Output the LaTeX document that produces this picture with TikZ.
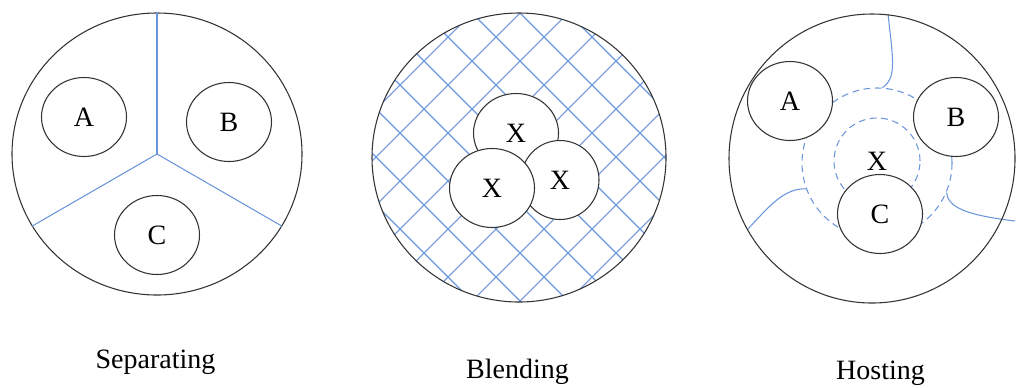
\documentclass[tikz,border=0pt]{standalone}
\usepackage{fontspec}
\setmainfont{Liberation Serif}
\usetikzlibrary{shapes.geometric}
\definecolor{ink}{HTML}{333333}
\definecolor{hatch}{HTML}{6B96DC}
\newcommand\lettersize{\fontsize{21}{25}\selectfont}

\begin{document}
\begin{tikzpicture}[x=0.75pt,y=-0.75pt,
  ring/.style={draw=ink,line width=0.8pt,ellipse,inner sep=0pt},
  blob/.style={draw=ink,fill=white,line width=0.8pt,ellipse,inner sep=0pt,
    minimum width=63.75pt,minimum height=59.25pt,font=\lettersize},
  wall/.style={hatch,line width=0.8pt},
  zone/.style={draw=hatch,line width=0.8pt,dash pattern=on 5pt off 3.5pt,
    circle,inner sep=0pt,font=\lettersize},
  caption/.style={anchor=base,font=\lettersize}]
  \useasboundingbox (0,0) rectangle (1016,387);
  % separating
  \node[ring,minimum width=217.5pt,minimum height=211.5pt] (sep) at (157,154) {};
  \foreach \a in {90,210,330}
    \draw[wall] (sep.center) -- (sep.\a);
  \node[blob] (sepA) at (84,117) {A};
  \node[blob] (sepB) at (229,122) {B};
  \node[blob] (sepC) at (157,235) {C};
  % blending: hatch clipped to the disc
  \begin{scope}
    \clip (519,157.5) ellipse [x radius=147,y radius=144.5];
    \foreach \c in {75,123,...,651}
      \draw[wall] (\c,0) -- (\c+320,320);
    \foreach \c in {389,437,...,965}
      \draw[wall] (\c,0) -- (\c-320,320);
  \end{scope}
  \node[ring,minimum width=220.5pt,minimum height=216.75pt] (blend) at (519,157.5) {};
  \node[blob] (xtop) at (516,133) {X};
  \node[blob,minimum width=58.5pt] (xright) at (560,180) {X};
  \node[blob] (xleft) at (492,188) {X};
  % hosting
  \node[zone,minimum size=112.5pt] (outer) at (877,163) {};
  \node[zone,minimum size=64.5pt] (inner) at (877,161) {X};
  \coordinate (topend) at (888,14);
  \coordinate (leftend) at (748,229);
  \coordinate (rightend) at (1015,221);
  \draw[wall] (outer.86) .. controls (897,78) and (893,60) .. (topend);
  \draw[wall] (outer.200) .. controls (785,188) and (770,205) .. (leftend);
  \draw[wall] (outer.337) .. controls (948,207) and (965,215) .. (rightend);
  \node[blob] (hostA) at (790,101) {A};
  \node[blob] (hostB) at (956,117) {B};
  \node[blob] (hostC) at (880,214) {C};
  \node[ring,minimum width=214.5pt,minimum height=216.75pt] (host) at (872,158.5) {};
  % captions
  \node[caption] (capsep) at (155.5,368) {Separating};
  \node[caption] (capblend) at (517.5,378) {Blending};
  \node[caption] (caphost) at (880.5,379) {Hosting};
\end{tikzpicture}
\end{document}
